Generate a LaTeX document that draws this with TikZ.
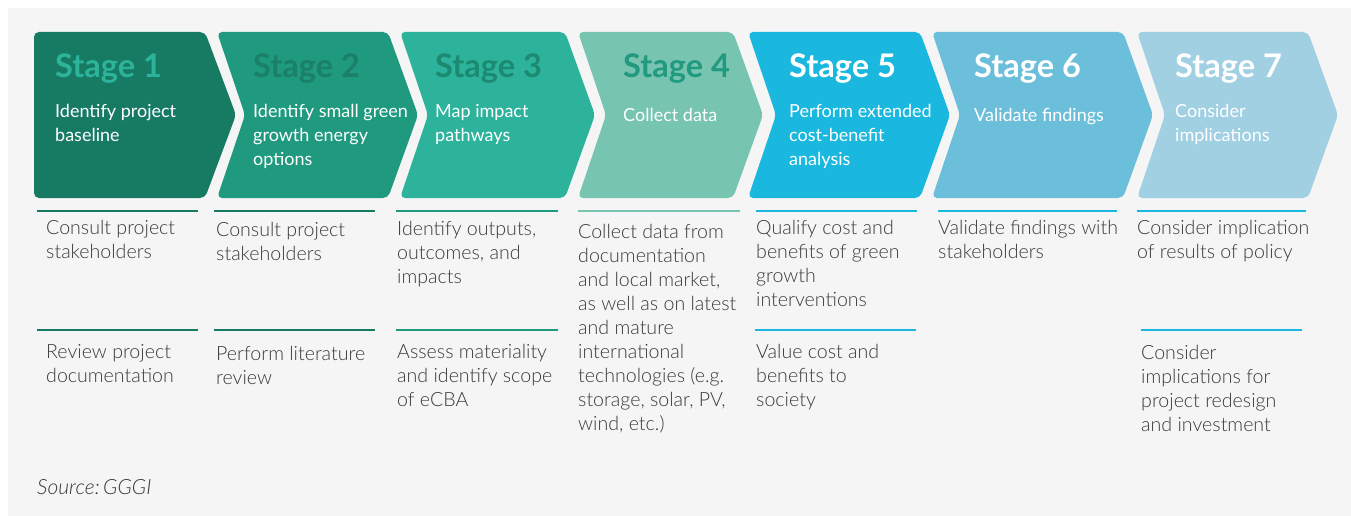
\documentclass[tikz,border=0pt]{standalone}
\usepackage{fontspec}
\setmainfont{Lato Light}[BoldFont={Lato Bold},ItalicFont={Lato Light Italic}]
\newfontfamily\latoreg{Lato}
\definecolor{bggray}{HTML}{F5F5F5}
\definecolor{tealA}{HTML}{177B64}
\definecolor{tealB}{HTML}{1F9A7E}
\definecolor{tealC}{HTML}{2DB39B}
\definecolor{tealD}{HTML}{77C4B1}
\definecolor{blueE}{HTML}{1AB7DE}
\definecolor{blueF}{HTML}{6CBFDB}
\definecolor{blueG}{HTML}{A1D0E3}
\definecolor{titleA}{HTML}{2DB39A}
\definecolor{titleB}{HTML}{1A8068}
\definecolor{titleC}{HTML}{1B8A70}
\definecolor{titleD}{HTML}{219A80}
\definecolor{textgray}{HTML}{3A3A3A}
\tikzset{
  chev/.style={rounded corners=5pt},
  stagetitle/.style={anchor=base west, inner sep=0pt, font=\fontsize{32.5}{36}\selectfont\bfseries},
  stagetext/.style={anchor=north west, yshift=16.8pt, inner sep=0pt, align=left, text=white,
    execute at begin node=\strut, font=\latoreg\fontsize{18}{24}\selectfont},
  steptext/.style={anchor=north west, yshift=16.8pt, inner sep=0pt, align=left, text=textgray,
    execute at begin node=\strut, font=\fontsize{19.6}{24}\selectfont},
  stepline/.style={line width=2pt},
}
\begin{document}
\begin{tikzpicture}[x=1pt,y=-1pt]
  %background
  \fill[white] (0,0) rectangle (1351,516);
  \fill[bggray] (8,8) rectangle (1351,516);
  %draw chevrons
  \fill[chev, tealA] (34,32) -- (205,32) -- (236,115) -- (205,198) -- (34,198) -- cycle;
  \foreach \l/\r/\c in {217/388/tealB, 400/565/tealC, 578/733/tealD, 748/920/blueE, 932/1123/blueF, 1137/1308/blueG}
    \fill[chev, \c] (\l,32) -- (\r,32) -- (\r+30,115) -- (\r,198) -- (\l,198) -- (\l+28,115) -- cycle;
  %stage titles
  \node[stagetitle, text=titleA] (t1) at (55,78) {Stage 1};
  \node[stagetitle, text=titleB] (t2) at (253,78) {Stage 2};
  \node[stagetitle, text=titleC] (t3) at (435,78) {Stage 3};
  \node[stagetitle, text=titleD] (t4) at (623,78) {Stage 4};
  \node[stagetitle, text=white] (t5) at (789,78) {Stage 5};
  \node[stagetitle, text=white] (t6) at (974,78) {Stage 6};
  \node[stagetitle, text=white] (t7) at (1175,78) {Stage 7};
  %stage texts
  \node[stagetext] (d1) at (55,121) {Identify project\\baseline};
  \node[stagetext] (d2) at (253,121) {Identify small green\\growth energy\\options};
  \node[stagetext] (d3) at (435,121) {Map impact\\pathways};
  \node[stagetext] (d4) at (623,121) {Collect data};
  \node[stagetext] (d5) at (789,121) {Perform extended\\cost-benefit\\analysis};
  \node[stagetext] (d6) at (974,121) {Validate findings};
  \node[stagetext] (d7) at (1175,121) {Consider\\implications};
  %first row of steps
  \draw[stepline, tealA] (37,211) -- (198,211);
  \draw[stepline, tealA] (214,211) -- (375,211);
  \draw[stepline, tealB] (396,211) -- (558,211);
  \draw[stepline, tealD] (578,211) -- (740,211);
  \draw[stepline, blueE] (756,211) -- (917,211);
  \draw[stepline, blueE] (938,211) -- (1117,211);
  \draw[stepline, blueE] (1137,211) -- (1306,211);
  \node[steptext] (s1a) at (46,237) {Consult project\\stakeholders};
  \node[steptext] (s2a) at (216,239) {Consult project\\stakeholders};
  \node[steptext] (s3a) at (397,238) {Identify outputs,\\outcomes, and\\impacts};
  \node[steptext] (s4a) at (578,241) {Collect data from\\documentation\\and local market,\\as well as on latest\\and mature\\international\\technologies (e.g.\\storage, solar, PV,\\wind, etc.)};
  \node[steptext] (s5a) at (756,237) {Qualify cost and\\benefits of green\\growth\\interventions};
  \node[steptext] (s6a) at (938,237) {Validate findings with\\stakeholders};
  \node[steptext] (s7a) at (1137,237) {Consider implication\\of results of policy};
  %second row of steps
  \draw[stepline, tealA] (37,330) -- (198,330);
  \draw[stepline, tealA] (214,330) -- (375,330);
  \draw[stepline, tealB] (396,330) -- (558,330);
  \draw[stepline, blueE] (755,330) -- (916,330);
  \draw[stepline, blueE] (1141,330) -- (1302,330);
  \node[steptext] (s1b) at (46,361) {Review project\\documentation};
  \node[steptext] (s2b) at (216,363) {Perform literature\\review};
  \node[steptext] (s3b) at (397,361) {Assess materiality\\and identify scope\\of eCBA};
  \node[steptext] (s5b) at (756,361) {Value cost and\\benefits to\\society};
  \node[steptext] (s7b) at (1141,362) {Consider\\implications for\\project redesign\\and investment};
  %source
  \node[anchor=base west, inner sep=0pt, text=textgray, font=\fontsize{21}{24}\selectfont\itshape] (src) at (37,494) {Source:\,GGGI};
\end{tikzpicture}
\end{document}
